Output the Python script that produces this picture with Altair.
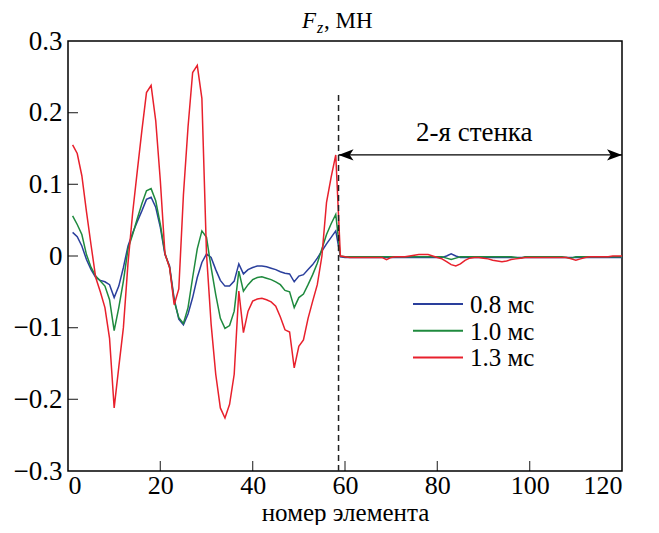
import altair as alt
import pandas as pd

# ---------------- data ----------------
elements = list(range(1, 121))
series_names = ["0.8 мс", "1.0 мс", "1.3 мс"]
series_colors = ["#2a3f9c", "#1f8a3e", "#e8202c"]

fz_08_wall1 = [0.033, 0.027, 0.014, -0.005, -0.019, -0.030, -0.034, -0.036, -0.040, -0.058,
               -0.042, -0.016, 0.014, 0.032, 0.048, 0.063, 0.079, 0.082, 0.068, 0.040,
               0.002, -0.014, -0.060, -0.088, -0.096, -0.081, -0.058, -0.030, -0.009, 0.003,
               -0.002, -0.019, -0.034, -0.042, -0.042, -0.035, -0.011, -0.025, -0.019, -0.016,
               -0.014, -0.014, -0.015, -0.017, -0.019, -0.022, -0.024, -0.025, -0.036, -0.028,
               -0.026, -0.019, -0.012, -0.003, 0.007, 0.017, 0.026, 0.035, -0.001]
fz_08_wall2 = [-0.002, -0.002, -0.002, -0.002, -0.002, -0.002, -0.002, -0.002, -0.002, -0.002,
               -0.002, -0.002, -0.002, -0.002, -0.002, -0.002, -0.002, -0.002, -0.002, -0.002,
               -0.002, -0.002, 0.000, 0.003, 0.000, -0.002, -0.002, -0.002, -0.002, -0.002,
               -0.002, -0.002, -0.002, -0.002, -0.002, -0.002, -0.002, -0.002, -0.002, -0.002,
               -0.002, -0.002, -0.002, -0.002, -0.002, -0.002, -0.002, -0.002, -0.002, -0.002,
               -0.002, -0.002, -0.002, -0.002, -0.002, -0.002, -0.002, -0.002, -0.002, -0.002,
               -0.002]

fz_10_wall1 = [0.056, 0.044, 0.030, 0.002, -0.016, -0.028, -0.035, -0.042, -0.061, -0.104,
               -0.072, -0.035, 0.010, 0.030, 0.052, 0.073, 0.091, 0.094, 0.077, 0.044,
               0.004, -0.016, -0.063, -0.086, -0.094, -0.072, -0.030, 0.010, 0.035, 0.026,
               -0.016, -0.054, -0.087, -0.101, -0.097, -0.077, -0.021, -0.049, -0.040, -0.033,
               -0.030, -0.029, -0.031, -0.033, -0.036, -0.040, -0.048, -0.050, -0.072, -0.058,
               -0.053, -0.040, -0.026, -0.010, 0.010, 0.030, 0.045, 0.058, 0.000]
fz_10_wall2 = [-0.001, -0.001, -0.001, -0.001, -0.001, -0.001, -0.001, -0.001, -0.001, -0.001,
               -0.001, -0.001, -0.001, -0.001, -0.001, -0.001, -0.001, -0.001, -0.001, -0.001,
               -0.001, -0.001, -0.003, -0.005, -0.003, -0.001, -0.001, -0.001, -0.001, -0.001,
               -0.001, -0.001, -0.001, -0.001, -0.001, -0.001, -0.001, -0.002, -0.003, -0.001,
               -0.001, -0.001, -0.001, -0.001, -0.001, -0.001, -0.001, -0.001, -0.002, -0.003,
               -0.001, -0.001, -0.001, -0.001, -0.001, -0.001, -0.001, -0.001, -0.001, -0.001,
               -0.001]

fz_13_wall1 = [0.155, 0.143, 0.112, 0.062, 0.015, -0.030, -0.050, -0.072, -0.115, -0.212,
               -0.155, -0.100, -0.010, 0.060, 0.118, 0.175, 0.228, 0.238, 0.189, 0.105,
               0.003, -0.016, -0.068, -0.046, 0.085, 0.180, 0.256, 0.266, 0.220, 0.003,
               -0.095, -0.165, -0.212, -0.226, -0.207, -0.165, -0.049, -0.107, -0.077, -0.063,
               -0.060, -0.059, -0.061, -0.064, -0.070, -0.085, -0.103, -0.106, -0.156, -0.126,
               -0.117, -0.087, -0.063, -0.040, 0.000, 0.075, 0.110, 0.141, 0.000]
fz_13_wall2 = [-0.001, -0.002, -0.002, -0.002, -0.002, -0.002, -0.002, -0.002, -0.002, -0.005,
               -0.002, -0.001, -0.001, -0.001, 0.000, 0.001, 0.002, 0.002, 0.002, 0.000,
               -0.002, -0.004, -0.008, -0.012, -0.014, -0.011, -0.006, -0.003, -0.002, -0.002,
               -0.003, -0.004, -0.006, -0.007, -0.008, -0.007, -0.005, -0.004, -0.003, -0.002,
               -0.002, -0.002, -0.002, -0.002, -0.002, -0.002, -0.002, -0.002, -0.002, -0.004,
               -0.006, -0.004, -0.002, -0.001, -0.001, -0.001, -0.001, -0.001, 0.000, 0.000,
               0.000]

x_label_values = [0, 20, 40, 60, 80, 100, 120]
y_label_values = [-0.3, -0.2, -0.1, 0.0, 0.1, 0.2, 0.3]
x_inner_ticks = [20, 40, 60, 80, 100]
y_inner_ticks = [-0.2, -0.1, 0.0, 0.1, 0.2]

wall_start = 58.6
wall_end = 120
arrow_level = 0.141
dash_top = 0.229
wall_label = "2-я стенка"
wall_label_x = 88
wall_label_y = 0.161

# ---------------- layout ----------------
W, H = 554, 430
FONT = "Liberation Serif"

series_values = [fz_08_wall1 + fz_08_wall2, fz_10_wall1 + fz_10_wall2, fz_13_wall1 + fz_13_wall2]
rows = []
for order, (name, vals) in enumerate(zip(series_names, series_values)):
    for e, v in zip(elements, vals):
        rows.append({"element": e, "fz": v, "series": name, "order": order})
df = pd.DataFrame(rows)

xscale = alt.Scale(domain=[0, 120], nice=False, zero=False)
yscale = alt.Scale(domain=[-0.3, 0.3], nice=False, zero=False)
x_axis = alt.Axis(values=x_label_values, title="номер элемента", format="d",
                  labelFont=FONT, labelFontSize=26, labelColor="black", labelPadding=1,
                  titleFont=FONT, titleFontSize=25, titleColor="black", titleFontWeight="normal",
                  titlePadding=2, domain=False, ticks=False, grid=False)
y_axis = alt.Axis(values=y_label_values, title=None, format=".1~f",
                  labelFont=FONT, labelFontSize=27, labelColor="black", labelPadding=6,
                  domain=False, ticks=False, grid=False)


def X(field):
    return alt.X(field, scale=xscale, axis=x_axis)


def Y(field):
    return alt.Y(field, scale=yscale, axis=y_axis)


lines = alt.Chart(df).mark_line(strokeWidth=1.5).encode(
    x=X("element:Q"),
    y=Y("fz:Q"),
    color=alt.Color("series:N", scale=alt.Scale(domain=series_names, range=series_colors), legend=None),
    order=alt.Order("order:Q"),
)

yt = alt.Chart(pd.DataFrame({"v": y_inner_ticks})).mark_tick(
    orient="horizontal", size=10, thickness=1.3, color="black"
).encode(y=Y("v:Q"), x=alt.value(5))

xt = alt.Chart(pd.DataFrame({"v": x_inner_ticks})).mark_tick(
    orient="vertical", size=10, thickness=1.3, color="black"
).encode(x=X("v:Q"), y=alt.value(H - 5))

ann = pd.DataFrame({"xs": [wall_start], "xe": [wall_end], "ya": [arrow_level],
                    "yb": [-0.3], "yt": [dash_top], "lx": [wall_label_x], "ly": [wall_label_y]})

dash = alt.Chart(ann).mark_rule(color="#222222", strokeWidth=1.5, strokeDash=[6, 4]).encode(
    x=X("xs:Q"), y=Y("yb:Q"), y2="yt:Q",
)

arrow_line = alt.Chart(ann).mark_rule(color="black", strokeWidth=1.3).encode(
    x=X("xs:Q"), x2="xe:Q", y=Y("ya:Q"),
)

head_left = alt.Chart(ann).mark_point(
    shape="M0,0L2,-0.75L1.5,0L2,0.75Z", size=225, filled=True, color="black", opacity=1
).encode(x=X("xs:Q"), y=Y("ya:Q"))

head_right = alt.Chart(ann).mark_point(
    shape="M0,0L-2,-0.75L-1.5,0L-2,0.75Z", size=225, filled=True, color="black", opacity=1
).encode(x=X("xe:Q"), y=Y("ya:Q"))

wall_text = alt.Chart(ann).mark_text(
    text=wall_label, font=FONT, fontSize=27, color="black", align="center", baseline="alphabetic"
).encode(x=X("lx:Q"), y=Y("ly:Q"))

one = pd.DataFrame({"k": [0]})
title_f = alt.Chart(one).mark_text(
    text="F", font=FONT, fontSize=23, fontStyle="italic", color="black", align="left", baseline="alphabetic"
).encode(x=alt.value(234), y=alt.value(-13))
title_z = alt.Chart(one).mark_text(
    text="z", font=FONT, fontSize=16, fontStyle="italic", color="black", align="left", baseline="alphabetic"
).encode(x=alt.value(249), y=alt.value(-8))
title_rest = alt.Chart(one).mark_text(
    text=", МН", font=FONT, fontSize=23, color="black", align="left", baseline="alphabetic"
).encode(x=alt.value(256), y=alt.value(-13))

legend_layers = []
for i, (name, col) in enumerate(zip(series_names, series_colors)):
    ly = 263 + i * 26.7
    legend_layers.append(
        alt.Chart(one).mark_rule(color=col, strokeWidth=2).encode(
            x=alt.value(345), x2=alt.value(395), y=alt.value(ly))
    )
    legend_layers.append(
        alt.Chart(one).mark_text(text=name, font=FONT, fontSize=25, color="black",
                                 align="left", baseline="middle").encode(
            x=alt.value(402), y=alt.value(ly + 1))
    )

chart = alt.layer(
    lines, yt, xt, dash, arrow_line, head_left, head_right, wall_text,
    title_f, title_z, title_rest, *legend_layers
).properties(
    width=W, height=H,
    padding={"left": 60, "top": 33, "right": 24, "bottom": 54},
    autosize=alt.AutoSizeParams(type="none"),
    background="white",
).configure_view(
    stroke="black", strokeWidth=1.5
)

chart.save("out.html", embed_options={"renderer": "svg", "actions": False})
